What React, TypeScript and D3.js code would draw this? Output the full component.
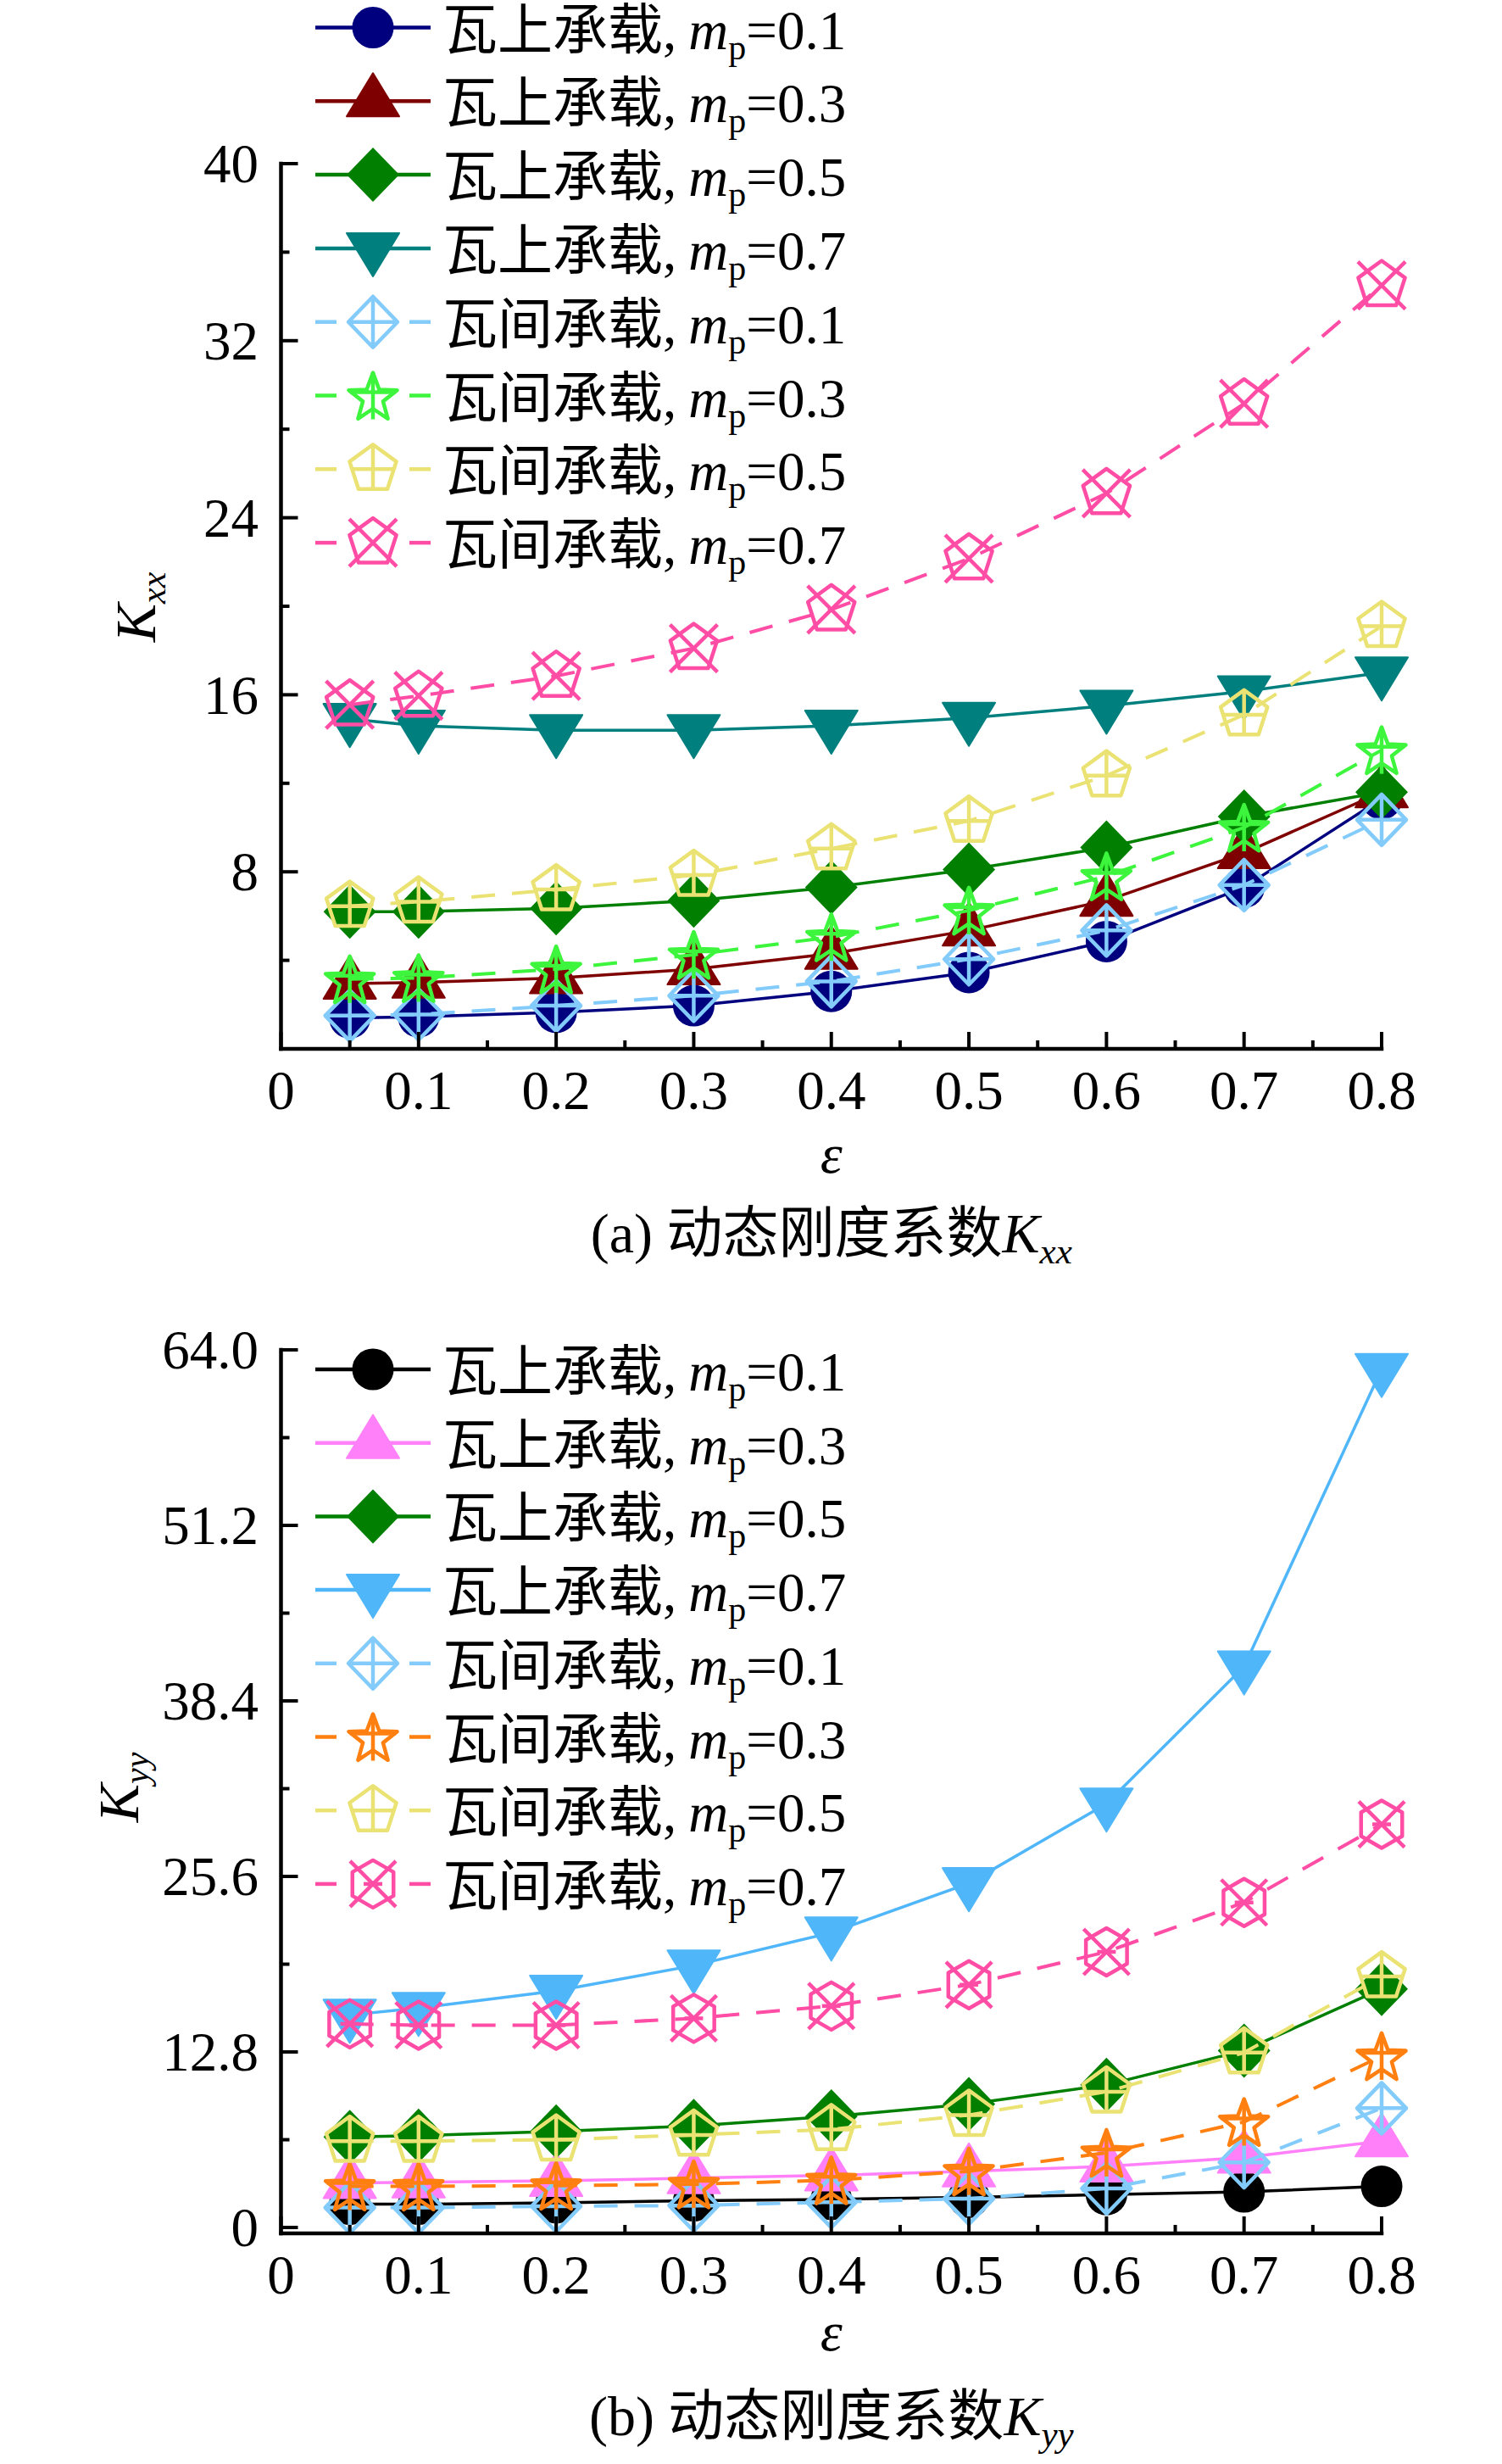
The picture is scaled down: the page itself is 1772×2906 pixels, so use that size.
import React from 'react';
import * as d3 from 'd3';

// ---------- data ----------
const EPS = [0.05, 0.1, 0.2, 0.3, 0.4, 0.5, 0.6, 0.7, 0.8];
const X_TICKS = [0, 0.1, 0.2, 0.3, 0.4, 0.5, 0.6, 0.7, 0.8];
const X_TICK_LABELS = ['0', '0.1', '0.2', '0.3', '0.4', '0.5', '0.6', '0.7', '0.8'];
const X_MINOR = [0.05, 0.15, 0.25, 0.35, 0.45, 0.55, 0.65, 0.75];

// Kxx (panel a)
const KXX_ON_01 = [1.4, 1.45, 1.65, 1.95, 2.6, 3.45, 4.85, 7.3, 11.3];
const KXX_ON_03 = [2.95, 3.0, 3.2, 3.6, 4.3, 5.35, 6.7, 8.85, 11.6];
const KXX_ON_05 = [6.2, 6.2, 6.35, 6.7, 7.3, 8.1, 9.1, 10.5, 11.6];
const KXX_ON_07 = [14.9, 14.6, 14.4, 14.4, 14.6, 14.95, 15.5, 16.15, 17.0];
const KXX_BETWEEN_01 = [1.5, 1.55, 1.95, 2.4, 3.05, 4.05, 5.35, 7.4, 10.35];
const KXX_BETWEEN_03 = [3.15, 3.2, 3.6, 4.25, 5.05, 6.25, 7.8, 10.0, 13.5];
const KXX_BETWEEN_05 = [6.45, 6.65, 7.2, 7.85, 9.05, 10.3, 12.35, 15.1, 19.1];
const KXX_BETWEEN_07 = [15.55, 15.95, 16.85, 18.1, 19.85, 22.15, 25.1, 29.15, 34.5];

// Kyy (panel b)
const KYY_ON_01 = [1.7, 1.7, 1.8, 1.95, 2.05, 2.2, 2.4, 2.6, 3.0];
const KYY_ON_03 = [3.25, 3.3, 3.4, 3.6, 3.8, 4.1, 4.45, 5.1, 6.3];
const KYY_ON_05 = [6.6, 6.7, 7.0, 7.4, 8.1, 9.0, 10.4, 12.9, 17.4];
const KYY_ON_07 = [15.5, 16.0, 17.25, 19.1, 21.5, 25.1, 30.9, 40.9, 62.6];
const KYY_BETWEEN_01 = [1.45, 1.45, 1.55, 1.6, 1.85, 2.1, 2.85, 4.75, 8.7];
const KYY_BETWEEN_03 = [3.0, 3.0, 3.05, 3.15, 3.45, 4.1, 5.45, 7.7, 12.5];
const KYY_BETWEEN_05 = [6.3, 6.3, 6.4, 6.75, 7.15, 8.2, 9.9, 12.75, 18.3];
const KYY_BETWEEN_07 = [14.85, 14.75, 14.75, 15.25, 16.15, 17.7, 20.1, 23.7, 29.4];

const LEGEND_PREFIX = ['瓦上承载', '瓦上承载', '瓦上承载', '瓦上承载', '瓦间承载', '瓦间承载', '瓦间承载', '瓦间承载'];
const LEGEND_MP = ['0.1', '0.3', '0.5', '0.7', '0.1', '0.3', '0.5', '0.7'];
const DASHED = [false, false, false, false, true, true, true, true];

const Y_TICKS_A = [8, 16, 24, 32, 40];
const Y_TICK_LABELS_A = ['8', '16', '24', '32', '40'];
const Y_MINOR_A = [4, 12, 20, 28, 36];
const Y_TICKS_B = [0, 12.8, 25.6, 38.4, 51.2, 64];
const Y_TICK_LABELS_B = ['0', '12.8', '25.6', '38.4', '51.2', '64.0'];
const Y_MINOR_B = [6.4, 19.2, 32, 44.8, 57.6];

const COLORS_A = ['#00007F', '#7F0000', '#007F00', '#007F7F', '#82CBFA', '#3DF53D', '#EAE272', '#FF4DA6'];
const COLORS_B = ['#000000', '#FF80F8', '#007F00', '#50B6FA', '#82CBFA', '#FF8010', '#EAE272', '#FF4DA6'];
const SHAPES_A = ['circle', 'triUp', 'diamond', 'triDown', 'diamondCross', 'starCross', 'pentCross', 'pentX'];
const SHAPES_B = ['circle', 'triUp', 'diamond', 'triDown', 'diamondCross', 'starCross', 'pentCross', 'hexX'];

const SERIES_A = [KXX_ON_01, KXX_ON_03, KXX_ON_05, KXX_ON_07, KXX_BETWEEN_01, KXX_BETWEEN_03, KXX_BETWEEN_05, KXX_BETWEEN_07];
const SERIES_B = [KYY_ON_01, KYY_ON_03, KYY_ON_05, KYY_ON_07, KYY_BETWEEN_01, KYY_BETWEEN_03, KYY_BETWEEN_05, KYY_BETWEEN_07];

// ---------- styling ----------
const SERIF = "'Liberation Serif','Times New Roman','Noto Sans CJK SC',serif";
const AXIS_W = 4.5;
const PLOT_LEFT = 331.5;
const PLOT_RIGHT = 1630;

const xScale = d3.scaleLinear().domain([0, 0.8]).range([PLOT_LEFT, PLOT_RIGHT]);

function polyPoints(cx: number, cy: number, n: number, R: number, start: number) {
  const pts: [number, number][] = [];
  for (let i = 0; i < n; i++) {
    const a = start + (i * 2 * Math.PI) / n;
    pts.push([cx + R * Math.cos(a), cy + R * Math.sin(a)]);
  }
  return pts;
}
const toPath = (pts: [number, number][]) => 'M' + pts.map((p) => p[0].toFixed(2) + ',' + p[1].toFixed(2)).join('L') + 'Z';

function Marker({ shape, cx, cy, color }: { shape: string; cx: number; cy: number; color: string }) {
  const sw = 4.5;
  const open = { fill: 'none', stroke: color, strokeWidth: sw, strokeLinejoin: 'round' as const };
  switch (shape) {
    case 'circle':
      return <circle cx={cx} cy={cy} r={24.5} fill={color} />;
    case 'triUp':
      return (
        <path d={`M${cx},${cy - 33}L${cx + 31},${cy + 18}L${cx - 31},${cy + 18}Z`} fill={color} stroke={color} strokeWidth={2} strokeLinejoin="round" />
      );
    case 'triDown':
      return (
        <path d={`M${cx},${cy + 33}L${cx + 31},${cy - 18}L${cx - 31},${cy - 18}Z`} fill={color} stroke={color} strokeWidth={2} strokeLinejoin="round" />
      );
    case 'diamond':
      return <path d={`M${cx},${cy - 32}L${cx + 31},${cy}L${cx},${cy + 32}L${cx - 31},${cy}Z`} fill={color} />;
    case 'diamondCross':
      return (
        <g {...open}>
          <path d={`M${cx},${cy - 30}L${cx + 29},${cy}L${cx},${cy + 30}L${cx - 29},${cy}Z`} />
          <line x1={cx} y1={cy - 30} x2={cx} y2={cy + 30} />
          <line x1={cx - 29} y1={cy} x2={cx + 29} y2={cy} />
        </g>
      );
    case 'starCross': {
      const pts: [number, number][] = [];
      for (let i = 0; i < 10; i++) {
        const R = i % 2 === 0 ? 30 : 12.5;
        const a = -Math.PI / 2 + (i * Math.PI) / 5;
        pts.push([cx + R * Math.cos(a), cy + 3 + R * Math.sin(a)]);
      }
      return (
        <g {...open}>
          <path d={toPath(pts)} />
          <line x1={cx} y1={cy - 27} x2={cx} y2={cy + 28} />
          <line x1={cx - 27} y1={cy - 4} x2={cx + 27} y2={cy - 4} />
        </g>
      );
    }
    case 'pentCross': {
      const R = 29;
      const pts = polyPoints(cx, cy, 5, R, -Math.PI / 2);
      return (
        <g {...open}>
          <path d={toPath(pts)} />
          <line x1={cx} y1={cy - R} x2={cx} y2={cy + 0.81 * R} />
          <line x1={cx - 0.85 * R} y1={cy} x2={cx + 0.85 * R} y2={cy} />
        </g>
      );
    }
    case 'pentX': {
      const R = 29;
      const pts = polyPoints(cx, cy, 5, R, -Math.PI / 2);
      return (
        <g {...open}>
          <path d={toPath(pts)} />
          <line x1={cx - 28} y1={cy - 28} x2={cx + 28} y2={cy + 28} />
          <line x1={cx + 28} y1={cy - 28} x2={cx - 28} y2={cy + 28} />
        </g>
      );
    }
    case 'hexX': {
      const R = 28;
      const pts = polyPoints(cx, cy, 6, R, -Math.PI / 2);
      return (
        <g {...open}>
          <path d={toPath(pts)} />
          <line x1={cx - 27} y1={cy - 27} x2={cx + 27} y2={cy + 27} />
          <line x1={cx + 27} y1={cy - 27} x2={cx - 27} y2={cy + 27} />
          <line x1={cx - 11} y1={cy} x2={cx + 11} y2={cy} />
        </g>
      );
    }
    default:
      return null;
  }
}

type PanelProps = {
  yScale: d3.ScaleLinear<number, number>;
  axisY: number;
  topY: number;
  yTicks: number[];
  yTickLabels: string[];
  yMinor: number[];
  series: number[][];
  colors: string[];
  shapes: string[];
  legendTop: number;
  legendStep: number;
  kSub: string;
  kLabelX: number;
  kLabelY: number;
  epsBaseline: number;
  tickBaseline: number;
  captionBaseline: number;
  letter: string;
};

function Panel(p: PanelProps) {
  const line = d3
    .line<number>()
    .x((_, i) => xScale(EPS[i]))
    .y((d) => p.yScale(d));
  return (
    <g>
      {/* series */}
      {p.series.map((s, si) => (
        <g key={'s' + si}>
          <path
            d={line(s) || ''}
            fill="none"
            stroke={p.colors[si]}
            strokeWidth={DASHED[si] ? 4 : 3.5}
            strokeDasharray={DASHED[si] ? '28 20' : undefined}
          />
          {s.map((v, i) => (
            <Marker key={i} shape={p.shapes[si]} cx={xScale(EPS[i])} cy={p.yScale(v)} color={p.colors[si]} />
          ))}
        </g>
      ))}

      {/* axes */}
      <g stroke="#000" strokeWidth={AXIS_W} strokeLinecap="square">
        <line x1={PLOT_LEFT} y1={p.topY} x2={PLOT_LEFT} y2={p.axisY} />
        <line x1={PLOT_LEFT} y1={p.axisY} x2={PLOT_RIGHT} y2={p.axisY} />
      </g>
      <g stroke="#000" strokeWidth={4}>
        {X_TICKS.map((t) => (
          <line key={'xt' + t} x1={xScale(t)} x2={xScale(t)} y1={p.axisY} y2={p.axisY - 20} />
        ))}
        {X_MINOR.map((t) => (
          <line key={'xm' + t} x1={xScale(t)} x2={xScale(t)} y1={p.axisY} y2={p.axisY - 10} />
        ))}
        {p.yTicks.map((t) => (
          <line key={'yt' + t} x1={PLOT_LEFT} x2={PLOT_LEFT + 20} y1={p.yScale(t)} y2={p.yScale(t)} />
        ))}
        {p.yMinor.map((t) => (
          <line key={'ym' + t} x1={PLOT_LEFT} x2={PLOT_LEFT + 10} y1={p.yScale(t)} y2={p.yScale(t)} />
        ))}
      </g>
      <g fontFamily={SERIF} fontSize={65} fill="#000">
        {X_TICKS.map((t, i) => (
          <text key={'xl' + t} x={xScale(t)} y={p.tickBaseline} textAnchor="middle">
            {X_TICK_LABELS[i]}
          </text>
        ))}
        {p.yTicks.map((t, i) => (
          <text key={'yl' + t} x={305} y={p.yScale(t)} dy="0.34em" textAnchor="end">
            {p.yTickLabels[i]}
          </text>
        ))}
      </g>

      {/* axis titles */}
      <text
        transform={`translate(${p.kLabelX},${p.kLabelY}) rotate(-90)`}
        fontFamily={SERIF}
        fontSize={68}
        fontStyle="italic"
        textAnchor="middle"
      >
        K
        <tspan fontSize={42} dy={12}>
          {p.kSub}
        </tspan>
      </text>
      <text x={(PLOT_LEFT + PLOT_RIGHT) / 2} y={p.epsBaseline} fontFamily={SERIF} fontSize={66} fontStyle="italic" textAnchor="middle">
        ε
      </text>
      <text x={(PLOT_LEFT + PLOT_RIGHT) / 2} y={p.captionBaseline} fontFamily={SERIF} fontSize={66} textAnchor="middle">
        {`(${p.letter}) 动态刚度系数`}
        <tspan fontStyle="italic">K</tspan>
        <tspan fontStyle="italic" fontSize={43} dy={13}>
          {p.kSub}
        </tspan>
      </text>

      {/* legend */}
      {LEGEND_PREFIX.map((pre, i) => {
        const ry = p.legendTop + i * p.legendStep;
        const c = p.colors[i];
        return (
          <g key={'lg' + i}>
            {DASHED[i] ? (
              <g stroke={c} strokeWidth={4.5}>
                <line x1={372} x2={397} y1={ry} y2={ry} />
                <line x1={483} x2={508} y1={ry} y2={ry} />
              </g>
            ) : (
              <line x1={372} x2={508} y1={ry} y2={ry} stroke={c} strokeWidth={4.5} />
            )}
            <Marker shape={p.shapes[i]} cx={440} cy={ry} color={c} />
            <text x={522} y={ry + 25} fontFamily={SERIF} fontSize={65} fill="#000">
              {pre + ','}
              <tspan fontStyle="italic" dx={14}>
                m
              </tspan>
              <tspan fontSize={42} dy={12}>
                p
              </tspan>
              <tspan dy={-12}>{'=' + LEGEND_MP[i]}</tspan>
            </text>
          </g>
        );
      })}
    </g>
  );
}

export default function App() {
  const yA = d3.scaleLinear().domain([0, 40]).range([1237, 193]);
  const yB = d3.scaleLinear().domain([-0.43, 64]).range([2634, 1592]);
  return (
    <svg width={1772} height={2906} style={{ position: 'absolute', left: 0, top: 0, background: '#fff' }}>
      <rect x={0} y={0} width={1772} height={2906} fill="#fff" />
      <Panel
        yScale={yA}
        axisY={1237}
        topY={193}
        yTicks={Y_TICKS_A}
        yTickLabels={Y_TICK_LABELS_A}
        yMinor={Y_MINOR_A}
        series={SERIES_A}
        colors={COLORS_A}
        shapes={SHAPES_A}
        legendTop={32.5}
        legendStep={86.8}
        kSub="xx"
        kLabelX={183}
        kLabelY={716}
        epsBaseline={1383}
        tickBaseline={1308}
        captionBaseline={1477}
        letter="a"
      />
      <Panel
        yScale={yB}
        axisY={2634}
        topY={1592}
        yTicks={Y_TICKS_B}
        yTickLabels={Y_TICK_LABELS_B}
        yMinor={Y_MINOR_B}
        series={SERIES_B}
        colors={COLORS_B}
        shapes={SHAPES_B}
        legendTop={1615}
        legendStep={86.7}
        kSub="yy"
        kLabelX={163}
        kLabelY={2108}
        epsBaseline={2772}
        tickBaseline={2705}
        captionBaseline={2872}
        letter="b"
      />
    </svg>
  );
}
